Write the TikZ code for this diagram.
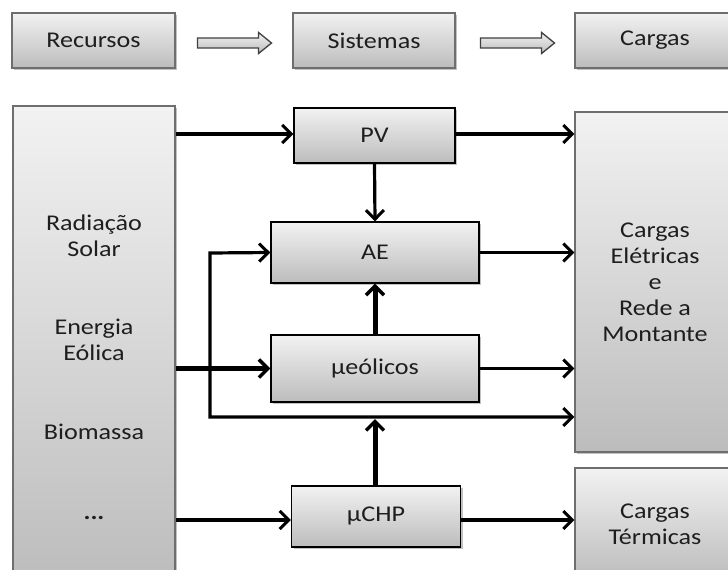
\documentclass[tikz,border=0pt]{standalone}
\usepackage{fontspec}
\setmainfont{Carlito}[FakeStretch=1.16]
\usetikzlibrary{arrows.meta,shadows,calc}
\definecolor{txt}{HTML}{1E1E1E}
\definecolor{shTop}{HTML}{F2F2F2}
\definecolor{shBot}{HTML}{BCBCBC}
\definecolor{edgeGray}{HTML}{6E6E6E}
\begin{document}
\begin{tikzpicture}[x=1pt,y=-1pt,
  font=\fontsize{22.5}{26}\selectfont,
  panel/.style={draw=#1, line width=1.1pt, top color=shTop, bottom color=shBot,
    text=txt, align=center, inner sep=0pt,
    drop shadow={shadow xshift=2pt, shadow yshift=-2pt, opacity=0.35, fill=black!70}},
  panel/.default=edgeGray,
  unit/.style={panel=black, line width=1.4pt},
  label/.style={text=txt, align=center, inner sep=0pt},
  barb/.style={Straight Barb[length=9pt,width=18pt,line width=3pt]},
  flow/.style={line width=3.2pt, -{Straight Barb[length=9pt,width=18pt,line width=3pt]}},
  bigflow/.style={line width=5pt, -{Straight Barb[length=9pt,width=18pt,line width=3.4pt]}},
  hollow/.style={draw=black!75, line width=1.3pt, top color=shTop, bottom color=shBot, line join=miter},
]
\useasboundingbox (0,0) rectangle (728,570);

% header row
\node[panel, minimum width=163pt, minimum height=55pt] (rec) at (93.5,40.5) {Recursos};
\node[panel, minimum width=162pt, minimum height=55pt] (sis) at (374,40.5) {Sistemas};
\node[panel, minimum width=160pt, minimum height=55pt] (car) at (655,40.5) {Cargas};

% hollow block arrows between header boxes
\path (rec.east) ++(22,2.5) coordinate (ha);
\draw[hollow] (ha) ++(0,-5) -- ++(61,0) -- ++(0,-5.5) -- ++(13,10.5) -- ++(-13,10.5)
  -- ++(0,-5.5) -- ++(-61,0) -- cycle;
\path (sis.east) ++(25,2.5) coordinate (hb);
\draw[hollow] (hb) ++(0,-5) -- ++(61,0) -- ++(0,-5.5) -- ++(13,10.5) -- ++(-13,10.5)
  -- ++(0,-5.5) -- ++(-61,0) -- cycle;

% resources column
\node[panel, minimum width=162pt, minimum height=479pt] (res) at (94,345.5) {};
\node[label] (sol) at (94,235.5) {Radiação\\Solar};
\node[label] (eol) at (94,340) {Energia\\Eólica};
\node[label] (bio) at (94,432) {Biomassa};
\node[label] (etc) at (94,518) {\textbf{...}};

% systems
\node[unit, minimum width=161pt, minimum height=55pt] (pv) at (374.5,135.5) {PV};
\node[unit, minimum width=208pt, minimum height=61pt] (ae) at (375,252.5) {AE};
\node[unit, minimum width=208pt, minimum height=67pt] (meo) at (375,368.5) {µeólicos};
\node[unit, minimum width=169pt, minimum height=61pt] (chp) at (376,516.5) {µCHP};

% loads
\node[panel, minimum width=160pt, minimum height=340pt] (ce) at (655,282)
  {Cargas\\Elétricas\\e\\Rede a\\Montante};
\node[panel, minimum width=160pt, minimum height=112pt] (ct) at (655,524) {Cargas\\Térmicas};

% bypass bus
\coordinate (bx) at (210,253);
\coordinate (by) at (210,417);

% connectors
\draw[flow] (res.east |- 0,134) -- (pv.west |- 0,134);
\draw[flow] (pv.east |- 0,134) -- (ce.west |- 0,134);
\draw[flow] (pv.south) -- (ae.north);
\draw[flow] (ae.east) -- (ae.east -| ce.west);
\draw[bigflow] (meo.north) -- (ae.south);
\draw[bigflow] (res.east |- meo.west) -- (meo.west);
\draw[flow] (meo.east) -- (meo.east -| ce.west);
\draw[line width=3.2pt, {Straight Barb[length=9pt,width=18pt,line width=3pt]}-{Straight Barb[length=9pt,width=18pt,line width=3pt]}, line join=miter]
  (ae.west) -- (bx) -- (by) -- (by -| ce.west);
\draw[bigflow] (chp.north -| 375,0) -- (375,419);
\draw[flow] (res.east |- 0,520) -- (chp.west |- 0,520);
\draw[flow] (chp.east |- 0,520) -- (ct.west |- 0,520);
\end{tikzpicture}
\end{document}
